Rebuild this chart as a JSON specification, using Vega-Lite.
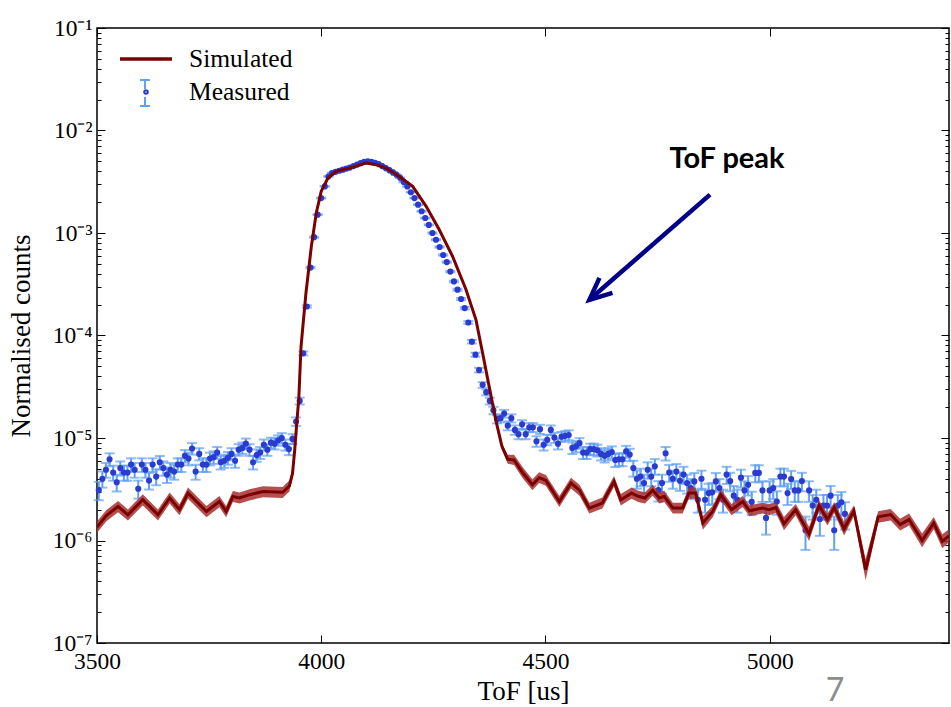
{
  "$schema": "https://vega.github.io/schema/vega-lite/v6.json",
  "width": 852,
  "height": 615,
  "autosize": {"type": "none"},
  "padding": {"left": 97, "top": 28, "right": 2, "bottom": 64},
  "background": "white",
  "config": {
    "view": {"stroke": "#000", "strokeWidth": 1.5},
    "axis": {"grid": false, "domain": false, "labelFont": "Liberation Serif", "labelFontSize": 23.5, "labelColor": "#000", "titleFont": "Liberation Serif", "titleFontSize": 27, "titleFontWeight": "normal", "titleColor": "#000", "tickColor": "#000", "tickWidth": 1},
    "legend": {"labelFont": "Liberation Serif", "labelFontSize": 25.5, "labelColor": "#000", "padding": 0}
  },
  "datasets": {
    "leg": [{"s": "Simulated"}, {"s": "Measured"}],
    "sim": [
      {"x":3500,"y":1.35e-6,"lo":1.19e-6,"hi":1.53e-6},
      {"x":3521,"y":1.75e-6,"lo":1.54e-6,"hi":1.98e-6},
      {"x":3547,"y":2.15e-6,"lo":1.89e-6,"hi":2.43e-6},
      {"x":3569,"y":1.78e-6,"lo":1.57e-6,"hi":2.01e-6},
      {"x":3602,"y":2.5e-6,"lo":2.2e-6,"hi":2.83e-6},
      {"x":3636,"y":1.78e-6,"lo":1.57e-6,"hi":2.01e-6},
      {"x":3662,"y":2.6e-6,"lo":2.29e-6,"hi":2.94e-6},
      {"x":3684,"y":2.0e-6,"lo":1.76e-6,"hi":2.26e-6},
      {"x":3703,"y":2.9e-6,"lo":2.55e-6,"hi":3.28e-6},
      {"x":3744,"y":1.92e-6,"lo":1.69e-6,"hi":2.17e-6},
      {"x":3773,"y":2.4e-6,"lo":2.11e-6,"hi":2.71e-6},
      {"x":3788,"y":1.92e-6,"lo":1.69e-6,"hi":2.17e-6},
      {"x":3803,"y":2.69e-6,"lo":2.37e-6,"hi":3.04e-6},
      {"x":3818,"y":2.6e-6,"lo":2.29e-6,"hi":2.94e-6},
      {"x":3840,"y":2.8e-6,"lo":2.46e-6,"hi":3.16e-6},
      {"x":3870,"y":3.0e-6,"lo":2.64e-6,"hi":3.39e-6},
      {"x":3914,"y":2.95e-6,"lo":2.6e-6,"hi":3.33e-6},
      {"x":3929,"y":3.4e-6,"lo":3.0e-6,"hi":3.84e-6},
      {"x":3936,"y":4.5e-6,"lo":4.05e-6,"hi":5.0e-6},
      {"x":3941,"y":7.7e-6,"lo":7.2e-6,"hi":8.2e-6},
      {"x":3946,"y":1.5e-5,"lo":1.43e-5,"hi":1.57e-5},
      {"x":3950,"y":2.4e-5,"lo":2.3e-5,"hi":2.5e-5},
      {"x":3955,"y":7.8e-5,"lo":7.5e-5,"hi":8.1e-5},
      {"x":3966,"y":2.6e-4,"lo":2.52e-4,"hi":2.68e-4},
      {"x":3978,"y":7.4e-4,"lo":7.2e-4,"hi":7.6e-4},
      {"x":3989,"y":1.57e-3,"lo":1.53e-3,"hi":1.61e-3},
      {"x":4000,"y":2.55e-3,"lo":2.49e-3,"hi":2.61e-3},
      {"x":4015,"y":3.44e-3,"lo":3.37e-3,"hi":3.51e-3},
      {"x":4033,"y":3.99e-3,"lo":3.91e-3,"hi":4.07e-3},
      {"x":4063,"y":4.3e-3,"lo":4.21e-3,"hi":4.39e-3},
      {"x":4100,"y":4.82e-3,"lo":4.72e-3,"hi":4.92e-3},
      {"x":4122,"y":4.64e-3,"lo":4.55e-3,"hi":4.73e-3},
      {"x":4145,"y":4.3e-3,"lo":4.21e-3,"hi":4.39e-3},
      {"x":4174,"y":3.56e-3,"lo":3.49e-3,"hi":3.63e-3},
      {"x":4204,"y":2.85e-3,"lo":2.79e-3,"hi":2.91e-3},
      {"x":4234,"y":1.82e-3,"lo":1.78e-3,"hi":1.86e-3},
      {"x":4263,"y":1.08e-3,"lo":1.06e-3,"hi":1.1e-3},
      {"x":4293,"y":5.9e-4,"lo":5.77e-4,"hi":6.03e-4},
      {"x":4323,"y":2.8e-4,"lo":2.73e-4,"hi":2.87e-4},
      {"x":4345,"y":1.43e-4,"lo":1.39e-4,"hi":1.47e-4},
      {"x":4360,"y":6.7e-5,"lo":6.5e-5,"hi":6.9e-5},
      {"x":4375,"y":3.1e-5,"lo":3.0e-5,"hi":3.2e-5},
      {"x":4390,"y":1.45e-5,"lo":1.39e-5,"hi":1.51e-5},
      {"x":4403,"y":8.3e-6,"lo":7.7e-6,"hi":8.9e-6},
      {"x":4416,"y":6.2e-6,"lo":5.6e-6,"hi":6.85e-6},
      {"x":4430,"y":6.1e-6,"lo":5.45e-6,"hi":6.85e-6},
      {"x":4449,"y":4.6e-6,"lo":4.07e-6,"hi":5.2e-6},
      {"x":4471,"y":3.5e-6,"lo":3.1e-6,"hi":3.96e-6},
      {"x":4486,"y":4.1e-6,"lo":3.63e-6,"hi":4.63e-6},
      {"x":4501,"y":3.86e-6,"lo":3.42e-6,"hi":4.36e-6},
      {"x":4531,"y":2.4e-6,"lo":2.12e-6,"hi":2.71e-6},
      {"x":4557,"y":3.63e-6,"lo":3.21e-6,"hi":4.1e-6},
      {"x":4576,"y":3.1e-6,"lo":2.74e-6,"hi":3.5e-6},
      {"x":4598,"y":2.07e-6,"lo":1.83e-6,"hi":2.34e-6},
      {"x":4627,"y":2.32e-6,"lo":2.05e-6,"hi":2.62e-6},
      {"x":4653,"y":3.77e-6,"lo":3.34e-6,"hi":4.26e-6},
      {"x":4668,"y":2.5e-6,"lo":2.2e-6,"hi":2.84e-6},
      {"x":4692,"y":2.9e-6,"lo":2.56e-6,"hi":3.28e-6},
      {"x":4707,"y":2.7e-6,"lo":2.38e-6,"hi":3.06e-6},
      {"x":4722,"y":2.6e-6,"lo":2.29e-6,"hi":2.95e-6},
      {"x":4739,"y":3.1e-6,"lo":2.74e-6,"hi":3.5e-6},
      {"x":4754,"y":2.6e-6,"lo":2.29e-6,"hi":2.95e-6},
      {"x":4765,"y":2.7e-6,"lo":2.38e-6,"hi":3.06e-6},
      {"x":4784,"y":2.07e-6,"lo":1.83e-6,"hi":2.34e-6},
      {"x":4806,"y":2.07e-6,"lo":1.83e-6,"hi":2.34e-6},
      {"x":4820,"y":2.9e-6,"lo":2.56e-6,"hi":3.28e-6},
      {"x":4835,"y":2.9e-6,"lo":2.56e-6,"hi":3.28e-6},
      {"x":4851,"y":1.48e-6,"lo":1.27e-6,"hi":1.72e-6},
      {"x":4873,"y":1.92e-6,"lo":1.69e-6,"hi":2.18e-6},
      {"x":4891,"y":2.8e-6,"lo":2.47e-6,"hi":3.17e-6},
      {"x":4915,"y":2.0e-6,"lo":1.76e-6,"hi":2.27e-6},
      {"x":4940,"y":2.4e-6,"lo":2.12e-6,"hi":2.71e-6},
      {"x":4955,"y":1.95e-6,"lo":1.72e-6,"hi":2.21e-6},
      {"x":4984,"y":2.07e-6,"lo":1.83e-6,"hi":2.34e-6},
      {"x":4999,"y":2.0e-6,"lo":1.76e-6,"hi":2.27e-6},
      {"x":5014,"y":2.1e-6,"lo":1.85e-6,"hi":2.38e-6},
      {"x":5032,"y":1.46e-6,"lo":1.26e-6,"hi":1.7e-6},
      {"x":5058,"y":2.0e-6,"lo":1.76e-6,"hi":2.27e-6},
      {"x":5088,"y":1.16e-6,"lo":9.9e-7,"hi":1.36e-6},
      {"x":5110,"y":2.19e-6,"lo":1.93e-6,"hi":2.48e-6},
      {"x":5129,"y":1.6e-6,"lo":1.4e-6,"hi":1.83e-6},
      {"x":5144,"y":2.1e-6,"lo":1.85e-6,"hi":2.38e-6},
      {"x":5166,"y":1.3e-6,"lo":1.12e-6,"hi":1.52e-6},
      {"x":5188,"y":1.95e-6,"lo":1.72e-6,"hi":2.21e-6},
      {"x":5214,"y":5.2e-7,"lo":4.1e-7,"hi":6.6e-7},
      {"x":5242,"y":1.7e-6,"lo":1.49e-6,"hi":1.93e-6},
      {"x":5270,"y":1.79e-6,"lo":1.57e-6,"hi":2.03e-6},
      {"x":5291,"y":1.43e-6,"lo":1.25e-6,"hi":1.63e-6},
      {"x":5311,"y":1.6e-6,"lo":1.4e-6,"hi":1.83e-6},
      {"x":5340,"y":1.0e-6,"lo":8.6e-7,"hi":1.17e-6},
      {"x":5366,"y":1.48e-6,"lo":1.29e-6,"hi":1.7e-6},
      {"x":5385,"y":9.8e-7,"lo":8.4e-7,"hi":1.15e-6},
      {"x":5400,"y":1.11e-6,"lo":9.6e-7,"hi":1.29e-6}
    ],
    "meas": [
      {"x":3504,"y":3.1e-6,"e":6.3e-7},{"x":3512,"y":4.0e-6,"e":7.2e-7},{"x":3520,"y":4.9e-6,"e":8.0e-7},{"x":3528,"y":6.2e-6,"e":8.9e-7},
      {"x":3536,"y":4.6e-6,"e":7.7e-7},{"x":3544,"y":3.7e-6,"e":6.9e-7},{"x":3552,"y":5.1e-6,"e":8.1e-7},{"x":3560,"y":4.6e-6,"e":7.7e-7},
      {"x":3568,"y":4.6e-6,"e":7.7e-7},{"x":3576,"y":5.5e-6,"e":8.4e-7},{"x":3584,"y":4.9e-6,"e":8.0e-7},{"x":3592,"y":3.2e-6,"e":6.4e-7},
      {"x":3600,"y":5.5e-6,"e":8.4e-7},{"x":3608,"y":4.9e-6,"e":8.0e-7},{"x":3616,"y":3.85e-6,"e":7.1e-7},{"x":3624,"y":5.5e-6,"e":8.4e-7},
      {"x":3632,"y":4.2e-6,"e":7.4e-7},{"x":3640,"y":5.8e-6,"e":8.7e-7},{"x":3648,"y":5.1e-6,"e":8.1e-7},{"x":3656,"y":4.4e-6,"e":7.6e-7},
      {"x":3664,"y":4.9e-6,"e":8.0e-7},{"x":3672,"y":4.7e-6,"e":7.8e-7},{"x":3680,"y":5.5e-6,"e":8.4e-7},{"x":3688,"y":5.5e-6,"e":8.4e-7},
      {"x":3696,"y":6.7e-6,"e":9.4e-7},{"x":3704,"y":6.3e-6,"e":9.0e-7},{"x":3712,"y":7.9e-6,"e":1.02e-6},{"x":3720,"y":4.7e-6,"e":7.8e-7},
      {"x":3728,"y":7.0e-6,"e":9.5e-7},{"x":3736,"y":5.5e-6,"e":8.4e-7},{"x":3744,"y":5.5e-6,"e":8.4e-7},{"x":3752,"y":6.3e-6,"e":9.0e-7},
      {"x":3760,"y":6.5e-6,"e":9.1e-7},{"x":3768,"y":7.2e-6,"e":9.6e-7},{"x":3776,"y":5.8e-6,"e":8.7e-7},{"x":3784,"y":6.0e-6,"e":8.8e-7},
      {"x":3792,"y":6.4e-6,"e":9.1e-7},{"x":3800,"y":7.0e-6,"e":9.5e-7},{"x":3808,"y":6.0e-6,"e":8.8e-7},{"x":3816,"y":7.7e-6,"e":1.0e-6},
      {"x":3824,"y":8.0e-6,"e":1.02e-6},{"x":3832,"y":8.8e-6,"e":1.07e-6},{"x":3840,"y":7.7e-6,"e":1.0e-6},{"x":3848,"y":5.8e-6,"e":8.7e-7},
      {"x":3856,"y":6.8e-6,"e":9.4e-7},{"x":3864,"y":7.2e-6,"e":9.6e-7},{"x":3872,"y":8.6e-6,"e":1.06e-6},{"x":3880,"y":7.7e-6,"e":1.0e-6},
      {"x":3888,"y":9.0e-6,"e":1.07e-6},{"x":3896,"y":8.8e-6,"e":1.07e-6},{"x":3904,"y":9.5e-6,"e":1.1e-6},{"x":3912,"y":1.0e-5,"e":1.15e-6},
      {"x":3920,"y":8.6e-6,"e":1.06e-6},{"x":3928,"y":7.8e-6,"e":1.0e-6},{"x":3936,"y":9.8e-6,"e":1.1e-6},{"x":3944,"y":1.45e-5,"e":1.37e-6},
      {"x":3952,"y":2.3e-5,"e":1.75e-6},{"x":3960,"y":6.7e-5,"e":2.9e-6},{"x":3968,"y":1.92e-4,"e":5.0e-6},{"x":3976,"y":4.6e-4,"e":7.7e-6},
      {"x":3984,"y":9.1e-4,"e":1.09e-5},{"x":3992,"y":1.51e-3,"e":1.4e-5},{"x":4000,"y":2.19e-3,"e":1.68e-5},{"x":4008,"y":2.85e-3,"e":1.92e-5},
      {"x":4016,"y":3.56e-3,"e":2.1e-5},{"x":4024,"y":3.85e-3,"e":2.2e-5},{"x":4032,"y":3.95e-3,"e":2.3e-5},{"x":4040,"y":4.05e-3,"e":2.3e-5},
      {"x":4048,"y":4.15e-3,"e":2.3e-5},{"x":4056,"y":4.25e-3,"e":2.4e-5},{"x":4064,"y":4.35e-3,"e":2.4e-5},{"x":4072,"y":4.5e-3,"e":2.4e-5},
      {"x":4080,"y":4.65e-3,"e":2.5e-5},{"x":4088,"y":4.8e-3,"e":2.5e-5},{"x":4096,"y":4.95e-3,"e":2.5e-5},{"x":4104,"y":5.0e-3,"e":2.5e-5},
      {"x":4112,"y":4.95e-3,"e":2.5e-5},{"x":4120,"y":4.85e-3,"e":2.5e-5},{"x":4128,"y":4.7e-3,"e":2.5e-5},{"x":4136,"y":4.5e-3,"e":2.4e-5},
      {"x":4144,"y":4.3e-3,"e":2.4e-5},{"x":4152,"y":4.1e-3,"e":2.3e-5},{"x":4160,"y":3.9e-3,"e":2.3e-5},{"x":4168,"y":3.7e-3,"e":2.2e-5},
      {"x":4176,"y":3.45e-3,"e":2.1e-5},{"x":4184,"y":3.15e-3,"e":2.0e-5},{"x":4192,"y":2.85e-3,"e":1.92e-5},{"x":4200,"y":2.5e-3,"e":1.8e-5},
      {"x":4208,"y":2.19e-3,"e":1.68e-5},{"x":4216,"y":1.89e-3,"e":1.57e-5},{"x":4224,"y":1.63e-3,"e":1.45e-5},{"x":4232,"y":1.4e-3,"e":1.35e-5},
      {"x":4240,"y":1.2e-3,"e":1.25e-5},{"x":4248,"y":1.0e-3,"e":1.14e-5},{"x":4256,"y":8.6e-4,"e":1.06e-5},{"x":4264,"y":7.3e-4,"e":9.7e-6},
      {"x":4272,"y":6.1e-4,"e":8.9e-6},{"x":4280,"y":5.2e-4,"e":8.2e-6},{"x":4288,"y":4.2e-4,"e":7.4e-6},{"x":4296,"y":3.37e-4,"e":6.6e-6},
      {"x":4304,"y":2.8e-4,"e":6.0e-6},{"x":4312,"y":2.27e-4,"e":5.4e-6},{"x":4320,"y":1.85e-4,"e":5.0e-6},{"x":4328,"y":1.34e-4,"e":4.2e-6},
      {"x":4336,"y":8.7e-5,"e":3.4e-6},{"x":4344,"y":6.5e-5,"e":2.9e-6},{"x":4352,"y":4.6e-5,"e":2.4e-6},{"x":4360,"y":3.3e-5,"e":2.1e-6},
      {"x":4368,"y":2.8e-5,"e":1.9e-6},{"x":4376,"y":2.3e-5,"e":1.75e-6},{"x":4384,"y":1.86e-5,"e":1.55e-6},{"x":4392,"y":1.53e-5,"e":1.42e-6},
      {"x":4400,"y":1.56e-5,"e":1.42e-6},{"x":4408,"y":1.73e-5,"e":1.5e-6},{"x":4416,"y":1.32e-5,"e":1.32e-6},{"x":4424,"y":1.56e-5,"e":1.42e-6},
      {"x":4432,"y":1.2e-5,"e":1.25e-6},{"x":4440,"y":1.09e-5,"e":1.18e-6},{"x":4448,"y":1.36e-5,"e":1.32e-6},{"x":4456,"y":1.09e-5,"e":1.18e-6},
      {"x":4464,"y":1.27e-5,"e":1.28e-6},{"x":4472,"y":1.27e-5,"e":1.28e-6},{"x":4480,"y":9.3e-6,"e":1.1e-6},{"x":4488,"y":1.22e-5,"e":1.25e-6},
      {"x":4496,"y":8.6e-6,"e":1.06e-6},{"x":4504,"y":9.6e-6,"e":1.1e-6},{"x":4512,"y":1.2e-5,"e":1.25e-6},{"x":4520,"y":1.01e-5,"e":1.15e-6},
      {"x":4528,"y":8.8e-6,"e":1.07e-6},{"x":4536,"y":1.03e-5,"e":1.15e-6},{"x":4544,"y":1.05e-5,"e":1.18e-6},{"x":4552,"y":1.07e-5,"e":1.18e-6},
      {"x":4560,"y":8.0e-6,"e":1.02e-6},{"x":4568,"y":8.3e-6,"e":1.04e-6},{"x":4576,"y":8.9e-6,"e":1.07e-6},{"x":4584,"y":7.2e-6,"e":9.6e-7},
      {"x":4592,"y":7.2e-6,"e":9.6e-7},{"x":4600,"y":7.8e-6,"e":1.0e-6},{"x":4608,"y":7.8e-6,"e":1.0e-6},{"x":4616,"y":7.6e-6,"e":1.0e-6},
      {"x":4624,"y":7.0e-6,"e":9.5e-7},{"x":4632,"y":6.7e-6,"e":9.4e-7},{"x":4640,"y":7.0e-6,"e":9.5e-7},{"x":4648,"y":7.3e-6,"e":9.8e-7},
      {"x":4656,"y":6.1e-6,"e":8.9e-7},{"x":4664,"y":6.2e-6,"e":8.9e-7},{"x":4672,"y":6.2e-6,"e":8.9e-7},{"x":4680,"y":7.4e-6,"e":9.8e-7},
      {"x":4688,"y":6.9e-6,"e":9.5e-7},{"x":4696,"y":5.1e-6,"e":9.0e-7},{"x":4704,"y":4.0e-6,"e":8.0e-7},{"x":4712,"y":4.2e-6,"e":8.2e-7},
      {"x":4720,"y":3.63e-6,"e":7.6e-7},{"x":4728,"y":4.9e-6,"e":8.9e-7},{"x":4736,"y":4.2e-6,"e":8.2e-7},{"x":4744,"y":5.3e-6,"e":9.2e-7},
      {"x":4752,"y":3.1e-6,"e":7.0e-7},{"x":4760,"y":3.63e-6,"e":7.6e-7},{"x":4768,"y":7.1e-6,"e":1.07e-6},{"x":4776,"y":4.6e-6,"e":8.6e-7},
      {"x":4784,"y":4.0e-6,"e":8.0e-7},{"x":4792,"y":4.7e-6,"e":8.7e-7},{"x":4800,"y":3.83e-6,"e":7.8e-7},{"x":4808,"y":4.4e-6,"e":8.4e-7},
      {"x":4816,"y":3.63e-6,"e":7.6e-7},{"x":4824,"y":3.25e-6,"e":7.2e-7},{"x":4832,"y":3.77e-6,"e":7.8e-7},{"x":4840,"y":2.5e-6,"e":6.3e-7},
      {"x":4848,"y":4.0e-6,"e":8.0e-7},{"x":4856,"y":2.5e-6,"e":6.3e-7},{"x":4864,"y":2.9e-6,"e":6.8e-7},{"x":4872,"y":2.95e-6,"e":6.9e-7},
      {"x":4880,"y":3.77e-6,"e":7.8e-7},{"x":4888,"y":3.25e-6,"e":7.2e-7},{"x":4896,"y":2.5e-6,"e":6.3e-7},{"x":4904,"y":4.4e-6,"e":8.4e-7},
      {"x":4912,"y":3.8e-6,"e":7.8e-7},{"x":4920,"y":2.74e-6,"e":6.6e-7},{"x":4928,"y":2.5e-6,"e":6.3e-7},{"x":4936,"y":4.1e-6,"e":8.1e-7},
      {"x":4944,"y":3.08e-6,"e":7.0e-7},{"x":4952,"y":3.5e-6,"e":7.5e-7},{"x":4960,"y":2.38e-6,"e":6.1e-7},{"x":4968,"y":4.56e-6,"e":8.6e-7},
      {"x":4976,"y":4.56e-6,"e":8.6e-7},{"x":4984,"y":3.08e-6,"e":7.0e-7},{"x":4992,"y":1.66e-6,"e":5.2e-7},{"x":5000,"y":3.08e-6,"e":7.0e-7},
      {"x":5008,"y":3.25e-6,"e":7.2e-7},{"x":5016,"y":2.4e-6,"e":6.2e-7},{"x":5024,"y":4.2e-6,"e":8.2e-7},{"x":5032,"y":4.2e-6,"e":8.2e-7},
      {"x":5040,"y":2.9e-6,"e":6.8e-7},{"x":5048,"y":3.98e-6,"e":8.0e-7},{"x":5056,"y":3.08e-6,"e":7.0e-7},{"x":5064,"y":3.08e-6,"e":7.0e-7},
      {"x":5072,"y":3.8e-6,"e":7.8e-7},{"x":5080,"y":1.26e-6,"e":4.5e-7},{"x":5088,"y":3.08e-6,"e":7.0e-7},{"x":5096,"y":2.19e-6,"e":5.9e-7},
      {"x":5104,"y":2.5e-6,"e":6.3e-7},{"x":5112,"y":1.62e-6,"e":5.1e-7},{"x":5120,"y":2.19e-6,"e":5.9e-7},{"x":5128,"y":2.19e-6,"e":5.9e-7},
      {"x":5136,"y":2.74e-6,"e":6.6e-7},{"x":5144,"y":1.26e-6,"e":4.5e-7},{"x":5152,"y":2.19e-6,"e":5.9e-7},{"x":5160,"y":2.36e-6,"e":6.1e-7},
      {"x":5168,"y":1.82e-6,"e":5.4e-7}
    ],
    "arrow": [{"x":4867,"y":2.37e-3,"x2":4598,"y2":2.23e-4}],
    "note": [{"x":4905,"y":4.33e-3,"t":"ToF peak"}],
    "page": [{"x":5146,"y":2.7e-8,"t":"7"}]
  },
  "resolve": {"axis": {"x": "independent", "y": "independent"}},
  "layer": [
    {
      "data": {"name": "meas"},
      "mark": {"type": "errorbar", "ticks": true, "size": 10, "thickness": 2, "color": "#5fa0f5"},
      "encoding": {
        "x": {"field": "x", "type": "quantitative", "scale": {"domain": [3500, 5400]}, "axis": null},
        "y": {"field": "y", "type": "quantitative", "scale": {"type": "log", "domain": [1e-7, 0.1]}, "axis": null},
        "yError": {"field": "e"}
      }
    },
    {
      "data": {"name": "meas"},
      "mark": {"type": "point", "filled": true, "size": 38, "opacity": 1, "strokeWidth": 0, "color": "#2b3bd0"},
      "encoding": {
        "x": {"field": "x", "type": "quantitative", "scale": {"domain": [3500, 5400]},
          "axis": {"orient": "bottom", "values": [3500, 4000, 4500, 5000], "format": "d", "tickSize": -8, "labelPadding": 14, "labelFlush": false, "labelOverlap": false, "title": "ToF [us]", "titlePadding": 6}},
        "y": {"field": "y", "type": "quantitative", "scale": {"type": "log", "domain": [1e-7, 0.1]},
          "axis": {"orient": "left", "values": [1e-7,2e-7,3e-7,4e-7,5e-7,6e-7,7e-7,8e-7,9e-7,1e-6,2e-6,3e-6,4e-6,5e-6,6e-6,7e-6,8e-6,9e-6,1e-5,2e-5,3e-5,4e-5,5e-5,6e-5,7e-5,8e-5,9e-5,1e-4,2e-4,3e-4,4e-4,5e-4,6e-4,7e-4,8e-4,9e-4,1e-3,2e-3,3e-3,4e-3,5e-3,6e-3,7e-3,8e-3,9e-3,1e-2,2e-2,3e-2,4e-2,5e-2,6e-2,7e-2,8e-2,9e-2,1e-1],
            "labelExpr": "abs(log(datum.value)/LN10 - round(log(datum.value)/LN10)) < 0.01 ? '10⁻' + ['0','¹','²','³','⁴','⁵','⁶','⁷'][round(-log(datum.value)/LN10)] : ''",
            "tickSize": {"condition": {"test": "abs(log(datum.value)/LN10 - round(log(datum.value)/LN10)) < 0.01", "value": -8}, "value": -4},
            "labelPadding": 13, "labelOverlap": false, "labelFlush": false, "labelBound": false,
            "title": "Normalised counts", "titleX": -76, "titleBaseline": "middle"}}
      }
    },
    {
      "data": {"name": "sim"},
      "mark": {"type": "area", "color": "#a83030", "opacity": 0.85, "clip": true},
      "encoding": {
        "x": {"field": "x", "type": "quantitative", "scale": {"domain": [3500, 5400]}, "axis": null},
        "y": {"field": "lo", "type": "quantitative", "scale": {"type": "log", "domain": [1e-7, 0.1]}, "axis": null},
        "y2": {"field": "hi"}
      }
    },
    {
      "data": {"name": "sim"},
      "mark": {"type": "line", "strokeWidth": 3, "clip": true, "color": "#7b0000"},
      "encoding": {
        "x": {"field": "x", "type": "quantitative", "scale": {"domain": [3500, 5400]}, "axis": null},
        "y": {"field": "y", "type": "quantitative", "scale": {"type": "log", "domain": [1e-7, 0.1]}, "axis": null}
      }
    },
    {
      "data": {"name": "meas"},
      "mark": {"type": "point", "opacity": 0},
      "encoding": {
        "x": {"field": "x", "type": "quantitative", "scale": {"domain": [3500, 5400]},
          "axis": {"orient": "top", "values": [3500, 4000, 4500, 5000], "tickSize": -8, "labels": false, "title": null}},
        "y": {"field": "y", "type": "quantitative", "scale": {"type": "log", "domain": [1e-7, 0.1]},
          "axis": {"orient": "right", "values": [1e-7,2e-7,3e-7,4e-7,5e-7,6e-7,7e-7,8e-7,9e-7,1e-6,2e-6,3e-6,4e-6,5e-6,6e-6,7e-6,8e-6,9e-6,1e-5,2e-5,3e-5,4e-5,5e-5,6e-5,7e-5,8e-5,9e-5,1e-4,2e-4,3e-4,4e-4,5e-4,6e-4,7e-4,8e-4,9e-4,1e-3,2e-3,3e-3,4e-3,5e-3,6e-3,7e-3,8e-3,9e-3,1e-2,2e-2,3e-2,4e-2,5e-2,6e-2,7e-2,8e-2,9e-2,1e-1],
            "tickSize": {"condition": {"test": "abs(log(datum.value)/LN10 - round(log(datum.value)/LN10)) < 0.01", "value": -8}, "value": -4},
            "labels": false, "title": null}},
        "size": {"datum": "Measured", "scale": {"type": "ordinal", "domain": ["Measured"], "range": [676]},
          "legend": {"orient": "none", "legendX": 34, "legendY": 51, "title": null, "labelOffset": 28, "labelOpacity": 0, "labelExpr": "''",
            "symbolType": "M-0.38,-1H0.38M0,-1V-0.3M0,0.3V1M-0.38,1H0.38", "symbolStrokeColor": "#5fa0f5", "symbolFillColor": "transparent", "symbolStrokeWidth": 2, "symbolOpacity": 1,
            "encode": {"symbols": {
              "shape": {"value": "M-0.38,-1H0.38M0,-1V-0.3M0,0.3V1M-0.38,1H0.38"},
              "size": {"value": 676},
              "fill": {"value": "transparent"},
              "stroke": {"value": "#5fa0f5"},
              "strokeWidth": {"value": 2},
              "opacity": {"value": 1}
            }}
          }
        }
      }
    },
    {
      "data": {"name": "leg"},
      "mark": {"type": "point", "filled": false, "opacity": 0},
      "encoding": {
        "color": {"field": "s", "type": "nominal", "scale": {"domain": ["Simulated", "Measured"], "range": ["#7b0000", "#2b3bd0"]},
          "legend": {"orient": "none", "legendX": 34, "legendY": 16, "title": null, "symbolSize": 676, "labelOffset": 28, "rowPadding": 4, "labelBaseline": "middle", "symbolStrokeWidth": 3.5, "symbolOpacity": 1,
            "encode": {"symbols": {
              "size": {"value": 676},
              "fill": {"value": "transparent"},
              "opacity": {"value": 1}
            }}
          }
        },
        "shape": {"field": "s", "type": "nominal", "scale": {"domain": ["Simulated", "Measured"], "range": ["M-2,0H2", "M-0.08,0A0.08,0.08,0,1,0,0.08,0A0.08,0.08,0,1,0,-0.08,0Z"]},
          "legend": {"orient": "none", "legendX": 34, "legendY": 16, "title": null, "symbolSize": 676, "labelOffset": 28, "rowPadding": 4, "labelBaseline": "middle", "symbolStrokeWidth": 3.5, "symbolOpacity": 1,
            "encode": {"symbols": {
              "size": {"value": 676},
              "fill": {"value": "transparent"},
              "opacity": {"value": 1}
            }}
          }
        }
      }
    },
    {
      "data": {"name": "arrow"},
      "mark": {"type": "rule", "color": "#000088", "strokeWidth": 4.5},
      "encoding": {
        "x": {"field": "x", "type": "quantitative", "scale": {"domain": [3500, 5400]}, "axis": null},
        "y": {"field": "y", "type": "quantitative", "scale": {"type": "log", "domain": [1e-7, 0.1]}, "axis": null},
        "x2": {"field": "x2"},
        "y2": {"field": "y2"}
      }
    },
    {
      "data": {"name": "arrow"},
      "mark": {"type": "point", "shape": "M-0.45,1L0,0L0.45,1", "angle": 229, "size": 1936, "filled": false, "stroke": "#000088", "strokeWidth": 4.5, "opacity": 1, "strokeJoin": "miter"},
      "encoding": {
        "x": {"field": "x2", "type": "quantitative", "scale": {"domain": [3500, 5400]}, "axis": null},
        "y": {"field": "y2", "type": "quantitative", "scale": {"type": "log", "domain": [1e-7, 0.1]}, "axis": null}
      }
    },
    {
      "data": {"name": "note"},
      "mark": {"type": "text", "font": "Lato", "fontWeight": "bold", "fontSize": 29, "align": "center", "baseline": "alphabetic", "color": "#000"},
      "encoding": {
        "x": {"field": "x", "type": "quantitative", "scale": {"domain": [3500, 5400]}, "axis": null},
        "y": {"field": "y", "type": "quantitative", "scale": {"type": "log", "domain": [1e-7, 0.1]}, "axis": null},
        "text": {"field": "t"}
      }
    },
    {
      "data": {"name": "page"},
      "mark": {"type": "text", "font": "Lato", "fontSize": 32, "align": "center", "baseline": "alphabetic", "color": "#8c8c8c", "clip": false},
      "encoding": {
        "x": {"field": "x", "type": "quantitative", "scale": {"domain": [3500, 5400]}, "axis": null},
        "y": {"field": "y", "type": "quantitative", "scale": {"type": "log", "domain": [1e-7, 0.1]}, "axis": null},
        "text": {"field": "t"}
      }
    }
  ]
}
